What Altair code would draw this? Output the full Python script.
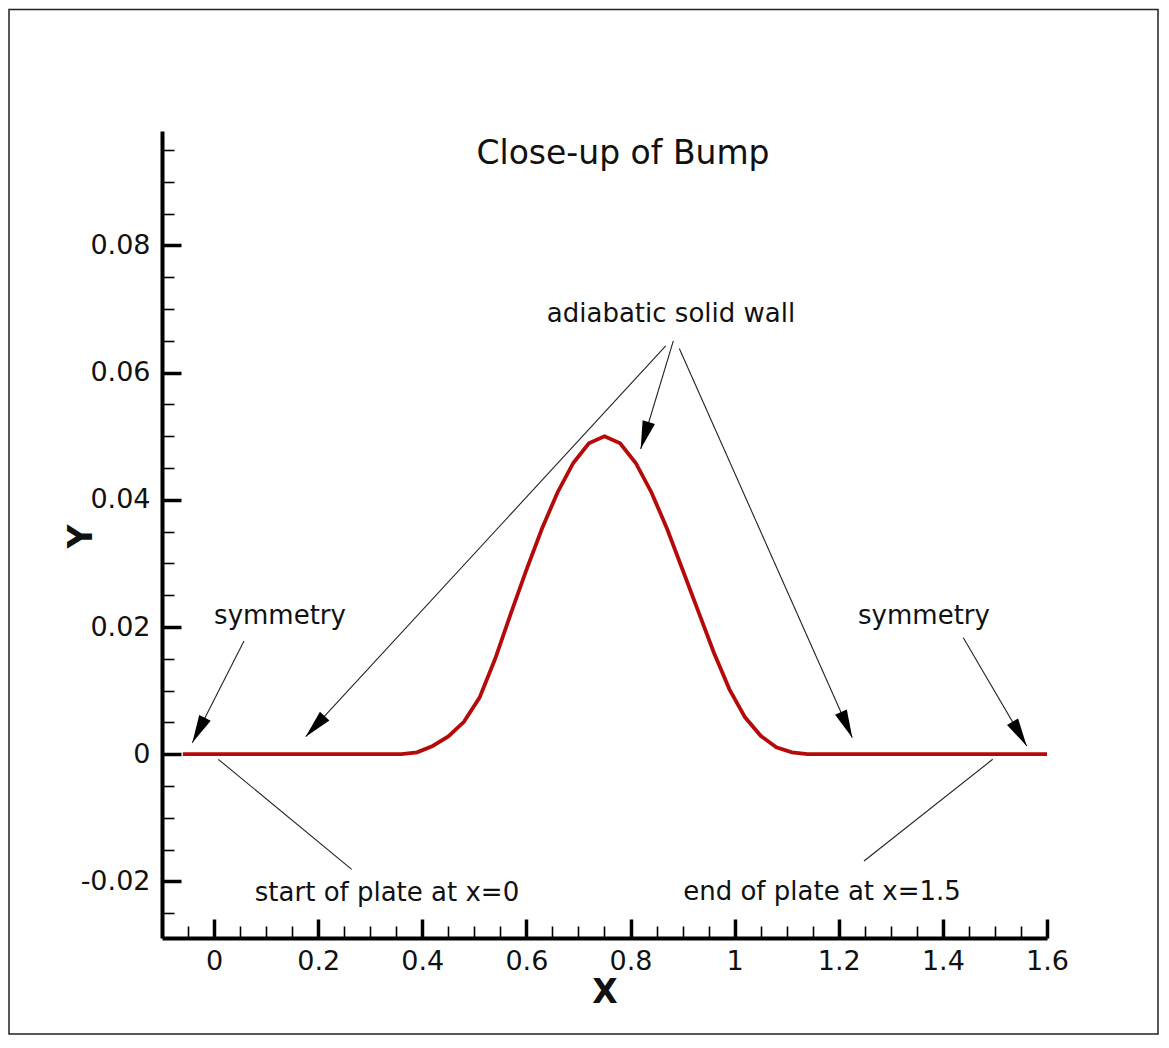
import math
import altair as alt
import pandas as pd

# ---- bump wall ----
bump_x = [-0.06, 0.33, 0.36, 0.39, 0.42, 0.45, 0.48, 0.51, 0.54, 0.57,
          0.60, 0.63, 0.66, 0.69, 0.72, 0.75, 0.78, 0.81, 0.84, 0.87,
          0.90, 0.93, 0.96, 0.99, 1.02, 1.05, 1.08, 1.11, 1.14, 1.60]
bump_y = [0, 0, 0, 0.0003, 0.0013, 0.0028, 0.0051, 0.0089, 0.0150, 0.0221,
          0.0290, 0.0355, 0.0412, 0.0458, 0.0489, 0.0500, 0.0489, 0.0458, 0.0412, 0.0355,
          0.0290, 0.0225, 0.0160, 0.0102, 0.0058, 0.0029, 0.0011, 0.0003, 0, 0]

# ---- axis ticks ----
x_major = [0, 0.2, 0.4, 0.6, 0.8, 1.0, 1.2, 1.4, 1.6]
x_minor = [-0.05, 0.05, 0.1, 0.15, 0.25, 0.3, 0.35, 0.45, 0.5, 0.55, 0.65, 0.7,
           0.75, 0.85, 0.9, 0.95, 1.05, 1.1, 1.15, 1.25, 1.3, 1.35, 1.45, 1.5, 1.55]
y_major = [-0.02, 0, 0.02, 0.04, 0.06, 0.08]
y_minor = [-0.025, -0.015, -0.01, -0.005, 0.005, 0.01, 0.015, 0.025, 0.03, 0.035,
           0.045, 0.05, 0.055, 0.065, 0.07, 0.075, 0.085, 0.09, 0.095]

# ---- arrows (start -> tip) ----
arrow_x1 = [0.0575, 0.8676, 0.8822, 0.8937, 1.4392]
arrow_y1 = [0.0178, 0.0642, 0.0650, 0.0638, 0.0183]
arrow_x2 = [-0.0418, 0.176, 0.8195, 1.226, 1.561]
arrow_y2 = [0.0018, 0.00275, 0.0480, 0.0026, 0.0013]

# ---- leader lines without heads ----
leader_x1 = [0.0081, 1.4957]
leader_y1 = [-0.0008, -0.0008]
leader_x2 = [0.2644, 1.2485]
leader_y2 = [-0.0181, -0.0168]

# ---- annotation texts ----
note_text = ["adiabatic solid wall", "symmetry", "symmetry",
             "start of plate at x=0", "end of plate at x=1.5"]
note_x = [0.8777, 0.1267, 1.3637, 0.3322, 1.1678]
note_y = [0.0679, 0.0204, 0.0204, -0.0231, -0.0229]

title_text = ["Close-up of Bump"]
title_x = [0.7855]
title_y = [0.0928]

# ---- layout ----
W, H = 885, 807
XDOM = [-0.1, 1.6]
YDOM = [-0.0289, 0.098]
FONT = "DejaVu Sans"
INK = "#111111"

xs = alt.Scale(domain=XDOM, nice=False, zero=False)
ys = alt.Scale(domain=YDOM, nice=False, zero=False)

SX = W / (XDOM[1] - XDOM[0])
SY = H / (YDOM[1] - YDOM[0])

bump = pd.DataFrame({"x": bump_x, "y": bump_y})
arrows = pd.DataFrame({"x": arrow_x1, "y": arrow_y1, "x2": arrow_x2, "y2": arrow_y2})
arrows["ang"] = [
    math.degrees(math.atan2((b - a) * SX, (d - c) * SY)) % 360
    for a, b, c, d in zip(arrow_x1, arrow_x2, arrow_y1, arrow_y2)
]
leaders = pd.DataFrame({"x": leader_x1, "y": leader_y1, "x2": leader_x2, "y2": leader_y2})
notes = pd.DataFrame({"x": note_x, "y": note_y, "t": note_text})
titles = pd.DataFrame({"x": title_x, "y": title_y, "t": title_text})

label_expr = "replace(format(datum.value, '~g'), '\u2212', '-')"

frame = alt.Chart(pd.DataFrame({"k": [0]})).mark_rect(
    filled=False, stroke="#222222", strokeWidth=1.5
).encode(
    x=alt.value(-153), x2=alt.value(996), y=alt.value(-121.5), y2=alt.value(903)
)

curve = alt.Chart(bump).mark_line(color="#b40a0a", strokeWidth=3.8).encode(
    x=alt.X("x:Q", scale=xs, axis=alt.Axis(
        values=x_major, ticks=False, grid=False, domainWidth=4, domainColor="black",
        labelFont=FONT, labelFontSize=27, labelColor=INK, labelPadding=10,
        labelFlush=False, labelOverlap=False, labelExpr=label_expr,
        title="X", titleFont=FONT, titleFontSize=33, titleFontWeight="bold",
        titleColor=INK, titleX=W / 2, titleY=64, titleBaseline="alphabetic")),
    y=alt.Y("y:Q", scale=ys, axis=alt.Axis(
        values=y_major, ticks=False, grid=False, domainWidth=4, domainColor="black",
        labelFont=FONT, labelFontSize=27, labelColor=INK, labelPadding=12,
        labelFlush=False, labelOverlap=False, labelExpr=label_expr,
        title="Y", titleFont=FONT, titleFontSize=33, titleFontWeight="bold",
        titleColor=INK, titleX=-71, titleY=405, titleAngle=270,
        titleAlign="center", titleBaseline="alphabetic")),
)


def tick_layer(xv, yv, size, width):
    return alt.Chart(bump).mark_line(opacity=0).encode(
        x=alt.X("x:Q", scale=xs, axis=alt.Axis(
            orient="top", offset=-H, values=xv, labels=False, domain=False,
            grid=False, ticks=True, tickSize=size, tickWidth=width,
            tickColor="black", title=None)),
        y=alt.Y("y:Q", scale=ys, axis=alt.Axis(
            orient="right", offset=-W, values=yv, labels=False, domain=False,
            grid=False, ticks=True, tickSize=size, tickWidth=width,
            tickColor="black", title=None)),
    )


major_ticks = tick_layer(x_major, y_major, 19, 3.5)
minor_ticks = tick_layer(x_minor, y_minor, 12, 1.6)

leader_lines = alt.Chart(leaders).mark_rule(color="#222222", strokeWidth=1.1).encode(
    x=alt.X("x:Q", scale=xs, axis=None), y=alt.Y("y:Q", scale=ys, axis=None),
    x2="x2:Q", y2="y2:Q",
)

arrow_lines = alt.Chart(arrows).mark_rule(color="#222222", strokeWidth=1.1).encode(
    x=alt.X("x:Q", scale=xs, axis=None), y=alt.Y("y:Q", scale=ys, axis=None),
    x2="x2:Q", y2="y2:Q",
)

heads = alt.Chart(arrows).mark_point(
    shape="M0,0 L0.46,2 L-0.46,2 Z", filled=True, size=784, color="black",
    opacity=1, strokeWidth=0,
).encode(
    x=alt.X("x2:Q", scale=xs, axis=None), y=alt.Y("y2:Q", scale=ys, axis=None),
    angle=alt.Angle("ang:Q", scale=None),
)

note_marks = alt.Chart(notes).mark_text(
    font=FONT, fontSize=26, color=INK, align="center", baseline="alphabetic"
).encode(
    x=alt.X("x:Q", scale=xs, axis=None), y=alt.Y("y:Q", scale=ys, axis=None),
    text="t:N",
)

title_marks = alt.Chart(titles).mark_text(
    font=FONT, fontSize=33, color=INK, align="center", baseline="alphabetic"
).encode(
    x=alt.X("x:Q", scale=xs, axis=None), y=alt.Y("y:Q", scale=ys, axis=None),
    text="t:N",
)

chart = alt.layer(
    frame, minor_ticks, major_ticks, curve, leader_lines, arrow_lines, heads,
    note_marks, title_marks,
).resolve_axis(
    x="independent", y="independent"
).properties(
    width=W, height=H, padding=0, background="white"
).configure(
    font=FONT
).configure_view(
    stroke="transparent", strokeWidth=0
)

chart.save("out.html", embed_options={"renderer": "svg", "actions": False})
